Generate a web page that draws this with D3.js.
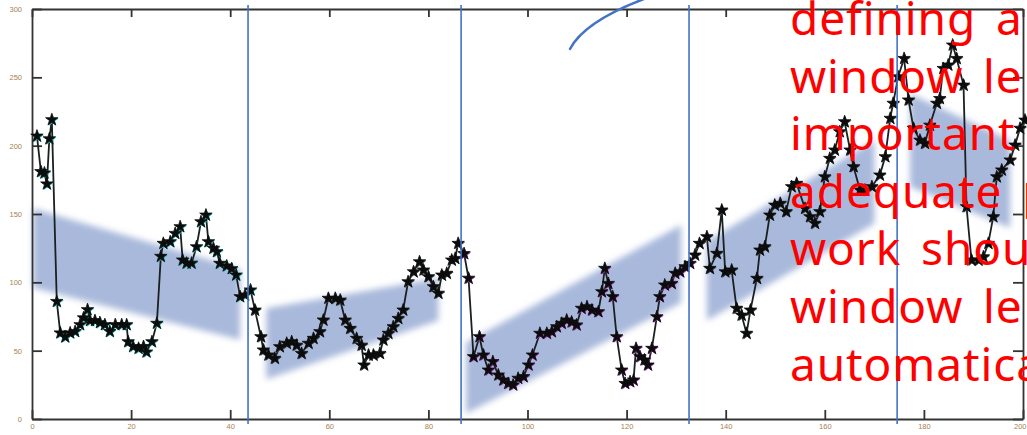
<!DOCTYPE html>
<html>
<head>
<meta charset="utf-8">
<script src="https://cdn.jsdelivr.net/npm/d3@7"></script>
<style>
  body { margin: 0; background: #fff; overflow: hidden; }
  svg { display: block; }
</style>
</head>
<body>
<div id="chart"></div>
<script>
// series (x, y)
var seriesX = [1, 1.8, 2.5, 3, 3.5, 4, 5, 5.7, 6.7, 7.7, 8.7, 9.7, 10.4, 11.2, 11.7, 12.7, 13.7, 14.7, 15.7, 16.8,
    18.1, 19.1, 19.4, 20.4, 21.5, 22.5, 23.1, 24.2, 25.2, 26, 26.5, 27.9, 28.9, 29.9, 30.4, 31.2, 32.2, 33.2, 34.1, 35.1,
    35.6, 36.6, 37.3, 37.9, 39.3, 40.3, 41.2, 42, 43, 44.1,
    45, 46.2, 46.7, 47.7, 49, 50, 51.4, 52.4, 53.4, 54.4, 55.8, 56.8, 58.1, 58.8, 59.8, 61.2, 62.2, 63.2, 64.2, 65.5,
    66.5, 67, 67.9, 68.9, 70.2, 70.9, 71.9, 72.9, 73.9, 74.9, 75.9, 77, 78.2, 79, 80, 81, 82, 82.7, 83.7, 84.7, 85.4, 86,
    87.2, 88.1, 89.1, 90.3, 91.1, 92.1, 93, 94.1, 95.1, 96.1, 97.1, 98.1, 99.2, 100.2, 101, 102.5, 103.9, 104.9, 105.9,
    106.9, 107.9, 108.9, 109.9, 110.9, 112, 113, 114.3, 115, 115.6, 116.3, 117.2, 118, 119, 119.7, 120.7, 121.4, 121.9,
    122.7, 123.6, 124.3, 125.1, 126.1, 126.7, 127.7, 129.1, 129.8, 130.8, 131.8, 132.8, 133.8,
    134.7, 136.2, 136.8, 138.2, 139.2, 139.9, 141.2, 142.2, 143.2, 144.2, 145, 146.3, 146.9, 147.9, 148.9, 149.9, 151,
    152.2, 153.3, 154.3, 156, 157, 158, 159, 160, 161, 162, 163, 164, 165.1, 165.8, 167.1, 168.1, 169.5, 171.1, 172.2,
    173.2, 173.8, 174.8, 176, 176.9, 177.9, 179.2, 180.2, 181.2, 182.6, 183.2, 183.9, 184.9, 185.8, 186.6, 188, 188.6,
    189.6, 191, 192, 193, 194, 194.7, 195.7, 197.4, 198.4, 199.4, 200.4];
var seriesY = [207, 181, 180, 172, 205, 219, 86, 63, 60, 63, 64, 69, 74, 80, 72, 72, 70.5, 69, 64, 69,
    69, 69, 56.5, 53, 51.7, 53, 49, 56.5, 70, 119, 128.5, 129.7, 135.8, 140.7, 116.3, 114, 114, 126, 144.3, 149.2,
    129.7, 124.9, 122.4, 113.9, 112, 110, 105.3, 89.5, 90.7, 94.4,
    79.7, 60.2, 50.5, 46.8, 44.4, 52.9, 55.4, 56.6, 54, 48, 55.4, 59, 63.9, 72.4, 88.3, 88.3, 87, 72.4, 66.3, 59,
    54, 39.5, 46.8, 46.8, 48, 57.8, 62.7, 67.5, 73.6, 79.7, 100.4, 107.7, 115, 109, 104.1, 96.8, 92, 105.3, 106.6, 116.3, 117.5, 128.5,
    121, 103, 45.6, 60.2, 46.8, 35.8, 42, 32.2, 28.5, 26, 24.9, 29.8, 31, 39.5, 46.8, 62.7, 62.7, 63.9, 67.5,
    70, 72.4, 71, 68.8, 81, 82.2, 79.7, 78.5, 93.1, 110.2, 99.2, 89.5, 60.2, 35.8, 26, 27.3, 28.5, 51.7,
    45.6, 43.2, 39.5, 51.7, 74.8, 89.5, 98, 99.2, 106.6, 107.7, 111.4, 113.9, 120,
    128.5, 133.4, 110.2, 121.2, 152.9, 107.7, 109, 81, 76, 62.7, 79.7, 102.9, 123.6, 126, 149.2, 156.5, 157.8,
    151.7, 170, 172.4, 154.1, 148, 143.2, 151.7, 177.2, 190.7, 196.8, 210.2, 217.5, 196.8, 184.6, 167.5, 167.5, 170, 178.5, 191.9,
    220, 231, 250.4, 263.8, 233.4, 212.7, 204, 201.7, 215, 231, 234.5, 256.5, 259, 273.6, 263.8, 244.3, 155.3,
    116.3, 116.3, 118.7, 128.5, 148, 177.2, 182.2, 189.5, 200.4, 212.7, 218.7];

// window boundaries (vertical lines)
var windowBounds = [43.6, 86.6, 132.6, 174.6];

// trend bands: start/end x with top/bottom values
var bandStartX = [0.2, 47.3, 87.6, 136.2, 177.2];
var bandEndX = [42, 82, 131, 170, 197.4];
var bandStartTop = [154, 81, 56, 130, 238];
var bandStartBottom = [96, 29, 4, 72, 170];
var bandEndTop = [110, 103, 142, 204, 204];
var bandEndBottom = [58, 72, 85, 143, 140];

var xTicks = [0, 20, 40, 60, 80, 100, 120, 140, 160, 180, 200];
var yTicks = [0, 50, 100, 150, 200, 250, 300];

// overlaid note, as far as it is visible in the picture
var noteLines = ["defining a", "window le", "important", "adequate p",
    "work shou", "window le", "automatica"];

var svgWidth = 1027;
var svgHeight = 435;
var margin = { top: 9, right: 4, bottom: 16, left: 32 };
var width = svgWidth - margin.left - margin.right;
var height = svgHeight - margin.top - margin.bottom;

var svg = d3.select("#chart")
    .append("svg")
    .attr("width", svgWidth)
    .attr("height", svgHeight);

var defs = svg.append("defs");
defs.append("filter")
    .attr("id", "soft")
    .attr("x", "-20%").attr("y", "-20%")
    .attr("width", "140%").attr("height", "140%")
    .append("feGaussianBlur")
    .attr("stdDeviation", 3);

var chartGroup = svg.append("g")
    .attr("transform", `translate(${margin.left}, ${margin.top})`);

var x = d3.scaleLinear().domain([0, 200]).range([0, width]);
var y = d3.scaleLinear().domain([0, 300]).range([height, 0]);

// bands
var bands = bandStartX.map(function(d, i) {
    return [[d, bandStartTop[i]], [bandEndX[i], bandEndTop[i]],
        [bandEndX[i], bandEndBottom[i]], [d, bandStartBottom[i]]];
});
chartGroup.append("g")
    .attr("filter", "url(#soft)")
    .selectAll("path")
    .data(bands)
    .enter()
    .append("path")
    .attr("d", d => "M" + d.map(p => x(p[0]) + "," + y(p[1])).join("L") + "Z")
    .attr("fill", "#a9b9db");

// axes, ticks pointing inward
function styleAxis(g) {
    g.selectAll("path, line").attr("stroke", "#333").attr("stroke-width", 1.8);
    g.selectAll("text")
        .attr("fill", "#a8824e")
        .attr("font-family", "Liberation Sans, Arial, sans-serif")
        .attr("font-size", "7.5px");
}
chartGroup.append("g")
    .attr("transform", `translate(0, ${height})`)
    .call(d3.axisBottom(x).tickValues(xTicks).tickSizeInner(-9).tickSizeOuter(0).tickPadding(5))
    .call(styleAxis);
// last bottom label sits on the right edge
chartGroup.selectAll("g.tick text")
    .filter(d => d === 200)
    .attr("text-anchor", "end")
    .attr("dx", 3);
chartGroup.append("g")
    .call(d3.axisLeft(y).tickValues(yTicks).tickSizeInner(-10).tickSizeOuter(0).tickPadding(10))
    .call(styleAxis);
chartGroup.append("g")
    .call(d3.axisTop(x).tickValues(xTicks).tickSizeInner(-8).tickSizeOuter(0).tickFormat(""))
    .call(styleAxis);
chartGroup.append("g")
    .attr("transform", `translate(${width}, 0)`)
    .call(d3.axisRight(y).tickValues(yTicks).tickSizeInner(-10).tickSizeOuter(0).tickFormat(""))
    .call(styleAxis);

// series line
var points = seriesX.map((d, i) => ({ x: d, y: seriesY[i] }));
var line = d3.line().x(d => x(d.x)).y(d => y(d.y));
chartGroup.append("path")
    .datum(points)
    .attr("d", line)
    .attr("fill", "none")
    .attr("stroke", "#1a2020")
    .attr("stroke-width", 1.8);

// markers: coloured halo then black star
function haloColor(d) {
    if (d.x < windowBounds[0] + 1) return "#19c4c4";
    if (d.x > windowBounds[1] && d.x < windowBounds[2] + 1) return "#a42cb4";
    return "#3a4a48";
}
var marker = d3.symbol().type(d3.symbolStar).size(48);
chartGroup.append("g")
    .selectAll("path")
    .data(points)
    .enter()
    .append("path")
    .attr("d", marker)
    .attr("transform", d => `translate(${x(d.x) + 0.8}, ${y(d.y) + 0.8})`)
    .attr("fill", haloColor);
chartGroup.append("g")
    .selectAll("path")
    .data(points)
    .enter()
    .append("path")
    .attr("d", marker)
    .attr("transform", d => `translate(${x(d.x)}, ${y(d.y)})`)
    .attr("fill", "#0c0c0c")
    .attr("stroke", "#0c0c0c")
    .attr("stroke-width", 0.8);

// window boundary lines
chartGroup.append("g")
    .selectAll("line")
    .data(windowBounds)
    .enter()
    .append("line")
    .attr("x1", d => x(d))
    .attr("x2", d => x(d))
    .attr("y1", y(300) - 4)
    .attr("y2", y(0) + 5)
    .attr("stroke", "#4472c4")
    .attr("stroke-width", 1.6);

// callout arc
svg.append("path")
    .attr("d", "M570,49 Q585,20 652,-4")
    .attr("fill", "none")
    .attr("stroke", "#4472c4")
    .attr("stroke-width", 2.5)
    .attr("stroke-linecap", "round");

// overlaid note text
svg.append("g")
    .selectAll("text")
    .data(noteLines)
    .enter()
    .append("text")
    .attr("x", 790)
    .attr("y", (d, i) => 35 + i * 57.6)
    .attr("fill", "#ff0000")
    .attr("font-family", "Noto Sans, sans-serif")
    .attr("font-size", "46px")
    .attr("letter-spacing", "0.9px")
    .attr("word-spacing", "7px")
    .text(d => d);
</script>
</body>
</html>
